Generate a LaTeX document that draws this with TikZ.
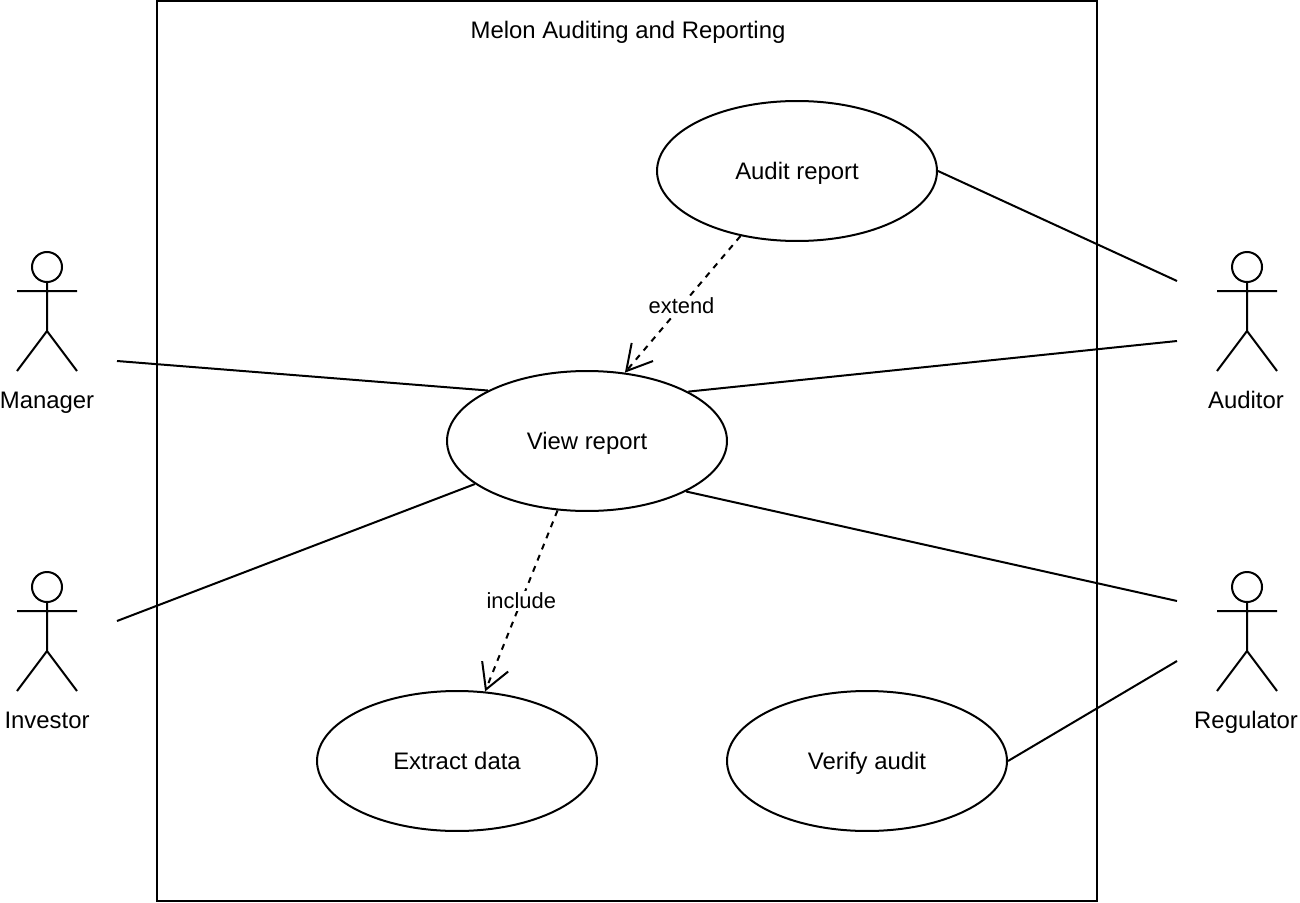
\documentclass[tikz,border=0pt]{standalone}
\usepackage{fontspec}
\setmainfont{Liberation Sans}
\usetikzlibrary{positioning,arrows.meta,calc,shapes.geometric}

\begin{document}
\begin{tikzpicture}[
        x=0.02cm, y=-0.02cm,
        line width=0.04cm,
        usecase/.style={ellipse, draw, minimum width=5.6cm, minimum height=2.8cm, inner sep=0pt, text height=0.34cm, text depth=0pt, font=\fontsize{13.6pt}{16pt}\selectfont},
        lbl/.style={font=\fontsize{13.6pt}{16pt}\selectfont, inner sep=0pt, text height=0.34cm, text depth=0pt},
        small/.style={font=\fontsize{12.47pt}{14pt}\selectfont, fill=white, inner sep=1pt},
        dep/.style={dash pattern=on 0.12cm off 0.12cm, -{Straight Barb[length=0.5cm, width=0.56cm, line width=0.04cm]}},
        actor/.pic={
            \draw (0,-44) circle (15);
            \draw (0,-29) -- (0,20) (-30,-20) -- (30,-20) (-30,60) -- (0,20) -- (30,60);
        }
    ]
    \useasboundingbox (0,0) rectangle (1300,902);

    %% ---- system box ----
    \node[draw, minimum width=18.8cm, minimum height=18cm, inner sep=0pt] (sys) at (627,451) {};
    \node[lbl] (title) at (628,30) {Melon Auditing and Reporting};

    %% ---- use cases ----
    \node[usecase] (audit) at (797,171) {Audit report};
    \node[usecase] (view) at (587,441) {View report};
    \node[usecase] (extract) at (457,761) {Extract data};
    \node[usecase] (verify) at (867,761) {Verify audit};

    %% ---- actors ----
    \pic at (47,311) {actor};
    \pic at (47,631) {actor};
    \pic at (1247,311) {actor};
    \pic at (1247,631) {actor};
    \node[lbl] (manager) at (47,400) {Manager};
    \node[lbl] (investor) at (47,720) {Investor};
    \node[lbl] (auditor) at (1246,400) {Auditor};
    \node[lbl] (regulator) at (1246,720) {Regulator};

    % free ends next to the actors
    \coordinate (managerR) at (117,361);
    \coordinate (investorR) at (117,621);
    \coordinate (auditorA) at (1177,281);
    \coordinate (auditorB) at (1177,341);
    \coordinate (regulatorA) at (1177,601);
    \coordinate (regulatorB) at (1177,661);

    %% ---- associations ----
    \draw (managerR) -- (view.153);
    \draw (investorR) -- (view.201.2);
    \draw (auditorA) -- (audit.east);
    \draw (auditorB) -- (view.26.8);
    \draw (regulatorA) -- (view.333.2);
    \draw (regulatorB) -- (verify.east);

    %% ---- extend / include ----
    \draw[dep] (audit.229.3) -- (view.61.4) node[small, pos=0.51] (ext) {extend};
    \draw[dep] (view.247.2) -- (extract.68.2) node[small, pos=0.5] (inc) {include};
\end{tikzpicture}
\end{document}
